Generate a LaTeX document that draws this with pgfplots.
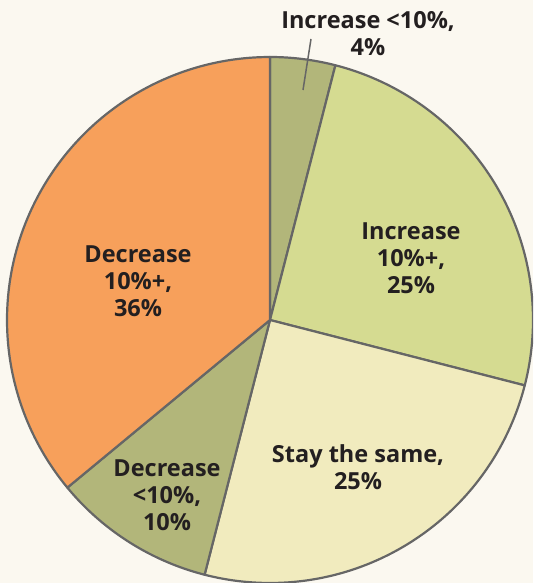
\documentclass[border=0pt]{standalone}
\usepackage{pgfplots}
\pgfplotsset{compat=1.18}
\usepackage{fontspec}
\setmainfont{Open Sans}

\definecolor{bgc}{HTML}{FBF8F0}
\definecolor{incsmall}{HTML}{B2B67A}
\definecolor{incbig}{HTML}{D5DB91}
\definecolor{same}{HTML}{F1EBBE}
\definecolor{decsmall}{HTML}{B2B67A}
\definecolor{decbig}{HTML}{F7A05B}
\definecolor{edge}{HTML}{666666}
\definecolor{txt}{HTML}{231F20}

\tikzset{lbl/.style={font=\bfseries\fontsize{23.5}{27}\selectfont,
                     text=txt, align=center, inner sep=0pt}}

% pie radius in axis units (1 unit = 1 pt)
\def\R{263}

% \slice{cumulative start %}{share %}{colour}
\newcommand{\slice}[3]{%
  \pgfmathsetmacro{\a}{3.6*#1}%
  \pgfmathsetmacro{\b}{3.6*(#1+#2)}%
  \addplot[fill=#3, draw=edge, line width=2.2pt, line join=round,
           domain=\a:\b, samples=60, smooth]
    ({\R*sin(x)}, {\R*cos(x)}) -- (axis cs:0,0) -- cycle;
}

\begin{document}
\begin{tikzpicture}
\begin{axis}[
    scale only axis,
    width=533pt, height=583pt,
    xmin=-270, xmax=263,
    ymin=-263, ymax=320,
    axis line style={draw=none},
    xtick=\empty, ytick=\empty,
    axis background/.style={fill=bgc},
]
\slice{0}{4}{incsmall}
\slice{4}{25}{incbig}
\slice{29}{25}{same}
\slice{54}{10}{decsmall}
\slice{64}{36}{decbig}

\draw[edge, line width=1.5pt] (axis cs:41,281) -- (axis cs:33,230);

\node[lbl] at (axis cs:98,286) {Increase <10\%,\\4\%};
\node[lbl] at (axis cs:141,62) {Increase\\10\%+,\\25\%};
\node[lbl] at (axis cs:-132,39) {Decrease\\10\%+,\\36\%};
\node[lbl] at (axis cs:88,-147) {Stay the same,\\25\%};
\node[lbl] at (axis cs:-103,-175) {Decrease\\<10\%,\\10\%};
\end{axis}
\end{tikzpicture}
\end{document}
